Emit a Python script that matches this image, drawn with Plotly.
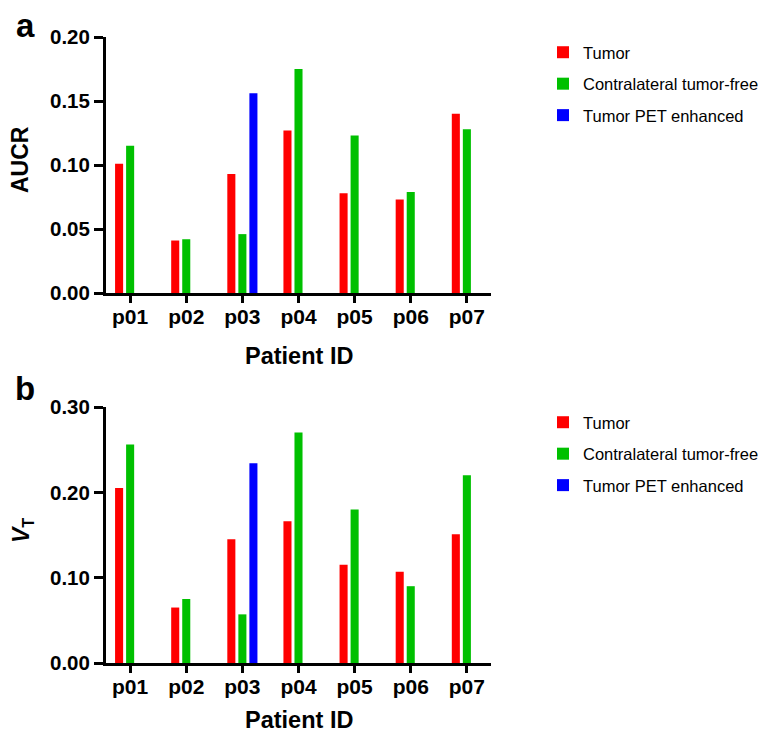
import plotly.graph_objects as go
from plotly.subplots import make_subplots

patients = ["p01", "p02", "p03", "p04", "p05", "p06", "p07"]

aucr_tumor = [0.101, 0.041, 0.093, 0.127, 0.078, 0.073, 0.140]
aucr_contra = [0.115, 0.042, 0.046, 0.175, 0.123, 0.079, 0.128]
aucr_pet = [None, None, 0.156, None, None, None, None]

vt_tumor = [0.205, 0.065, 0.145, 0.166, 0.115, 0.107, 0.151]
vt_contra = [0.256, 0.075, 0.057, 0.270, 0.180, 0.090, 0.220]
vt_pet = [None, None, 0.234, None, None, None, None]

aucr_ticks = [0.00, 0.05, 0.10, 0.15, 0.20]
vt_ticks = [0.00, 0.10, 0.20, 0.30]

series_names = ["Tumor", "Contralateral tumor-free", "Tumor PET enhanced"]
colors = ["#FF0000", "#00C000", "#0000FF"]

# the page body adds an 8px offset; work in figure pixel coordinates
W, H = 769, 737
ML, MR, MT, MB = 98, 286, 29, 82
PH = H - MT - MB
PW = W - ML - MR
Y0 = H - MB  # figure pixel of paper y=0


def py(pix):
    return (Y0 - pix) / PH


def px(pix):
    return (pix - ML) / PW


fig = make_subplots(rows=2, cols=1, vertical_spacing=(399 - 285) / PH)

for row, vals, leg in [(1, [aucr_tumor, aucr_contra, aucr_pet], "legend"),
                       (2, [vt_tumor, vt_contra, vt_pet], "legend2")]:
    for name, v, c in zip(series_names, vals, colors):
        fig.add_trace(go.Bar(x=patients, y=v, name=name, marker_color=c,
                             marker_line_width=0, legend=leg,
                             legendgroup=f"{leg}{name}"), row=row, col=1)

BOLD = "Liberation Sans, Arial"
xtick_font = dict(family=BOLD, size=21, color="black", weight="bold")
ytick_font = dict(family=BOLD, size=20.5, color="black", weight="bold")
title_font = dict(family=BOLD, size=23.5, color="black", weight="bold")

common_x = dict(type="category", range=[-0.43, 6.43], showline=True, linecolor="black",
                linewidth=3, ticks="outside", ticklen=7, tickwidth=3, tickcolor="black",
                tickfont=xtick_font, showgrid=False, zeroline=False, automargin=False,
                ticklabelstandoff=-4)
common_y = dict(showline=True, linecolor="black", linewidth=3, ticks="outside",
                ticklen=9, tickwidth=3, tickcolor="black", tickfont=ytick_font,
                showgrid=False, zeroline=False, tickformat=".2f", automargin=False)

fig.update_xaxes(**common_x)
fig.update_yaxes(**common_y, row=1, col=1, range=[0, 0.20], tickvals=aucr_ticks)
fig.update_yaxes(**common_y, row=2, col=1, range=[0, 0.30], tickvals=vt_ticks)

leg_font = dict(family="Liberation Sans, Arial", size=16.5, color="black")
fig.update_layout(
    width=W, height=H,
    margin=dict(l=ML, r=MR, t=MT, b=MB, autoexpand=False),
    paper_bgcolor="white", plot_bgcolor="white",
    barmode="group", bargap=0.41, bargroupgap=0.27,
    showlegend=True,
    legend=dict(x=px(535), xanchor="left", y=py(27), yanchor="top",
                font=leg_font, bgcolor="rgba(0,0,0,0)", tracegroupgap=7),
    legend2=dict(x=px(535), xanchor="left", y=py(397), yanchor="top",
                 font=leg_font, bgcolor="rgba(0,0,0,0)", tracegroupgap=7),
    annotations=[
        dict(text="<b>a</b>", x=px(17), y=py(-3), xref="paper", yref="paper",
             showarrow=False, xanchor="center", yanchor="top",
             font=dict(family=BOLD, size=33, color="black")),
        dict(text="<b>b</b>", x=px(17), y=py(360), xref="paper", yref="paper",
             showarrow=False, xanchor="center", yanchor="top",
             font=dict(family=BOLD, size=33, color="black")),
        dict(text="Patient ID", x=0.5, y=py(348), xref="paper", yref="paper",
             showarrow=False, xanchor="center", yanchor="middle", font=title_font),
        dict(text="Patient ID", x=0.5, y=py(712), xref="paper", yref="paper",
             showarrow=False, xanchor="center", yanchor="middle", font=title_font),
        dict(text="AUCR", x=px(12), y=py(152), xref="paper", yref="paper",
             showarrow=False, xanchor="center", yanchor="middle", textangle=-90,
             font=dict(family=BOLD, size=23, color="black", weight="bold")),
        dict(text="<i>V</i><sub>T</sub>", x=px(14), y=py(523), xref="paper", yref="paper",
             showarrow=False, xanchor="center", yanchor="middle", textangle=-90,
             font=dict(family=BOLD, size=23, color="black", weight="bold")),
    ],
)

fig.write_html("out.html")
